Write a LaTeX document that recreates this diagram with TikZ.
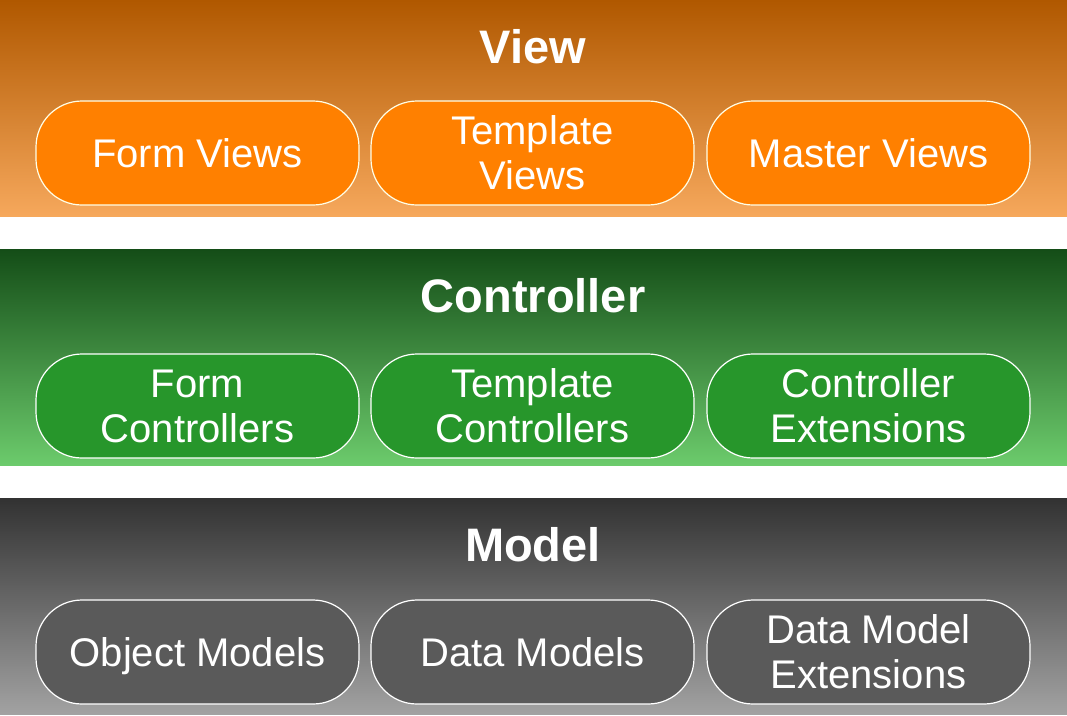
\documentclass[tikz,border=0pt]{standalone}
\usepackage{fontspec}
\setmainfont{Liberation Sans}
\definecolor{vtop}{HTML}{B05800}
\definecolor{vbot}{HTML}{F6A85C}
\definecolor{vbox}{HTML}{FF8000}
\definecolor{ctop}{HTML}{144D17}
\definecolor{cbot}{HTML}{6CCB6C}
\definecolor{cbox}{HTML}{27962B}
\definecolor{mtop}{HTML}{323232}
\definecolor{mbot}{HTML}{A2A2A2}
\definecolor{mbox}{HTML}{5A5A5A}
\begin{document}
\begin{tikzpicture}[x=1pt,y=-1pt,
  band/.style={draw=none,inner sep=0pt,minimum width=1067pt,minimum height=216pt,anchor=north west},
  title/.style={text=white,font=\fontsize{47}{50}\selectfont\bfseries},
  pill/.style={draw=white,line width=1.2pt,rounded corners=46pt,minimum width=323pt,minimum height=104pt,
    text=white,align=center,font=\fontsize{40}{45}\selectfont,inner sep=0pt},
  vpill/.style={pill,fill=vbox,draw=white!90!yellow},
  cpill/.style={pill,fill=cbox},
  mpill/.style={pill,fill=mbox}]
\useasboundingbox (0,0) rectangle (1067,715);
\fill[white] (0,0) rectangle (1067,715);
% bands
\node[band,top color=vtop,bottom color=vbot] (vband) at (0,0) {};
\node[band,top color=ctop,bottom color=cbot] (cband) at (0,249) {};
\node[band,top color=mtop,bottom color=mbot] (mband) at (0,498) {};
% titles
\node[title] (vtitle) at (533,47) {View};
\node[title] (ctitle) at (533,296) {Controller};
\node[title] (mtitle) at (533,545) {Model};
% view boxes
\node[vpill] (v1) at (197.5,153) {Form Views};
\node[vpill] (v2) at (532.5,153) {Template\\Views};
\node[vpill] (v3) at (868.5,153) {Master Views};
% controller boxes
\node[cpill] (c1) at (197.5,406) {Form\\Controllers};
\node[cpill] (c2) at (532.5,406) {Template\\Controllers};
\node[cpill] (c3) at (868.5,406) {Controller\\Extensions};
% model boxes
\node[mpill] (m1) at (197.5,652) {\raisebox{0pt}[\height][0pt]{Object Models}};
\node[mpill] (m2) at (532.5,652) {Data Models};
\node[mpill] (m3) at (868.5,652) {Data Model\\Extensions};
\end{tikzpicture}
\end{document}
